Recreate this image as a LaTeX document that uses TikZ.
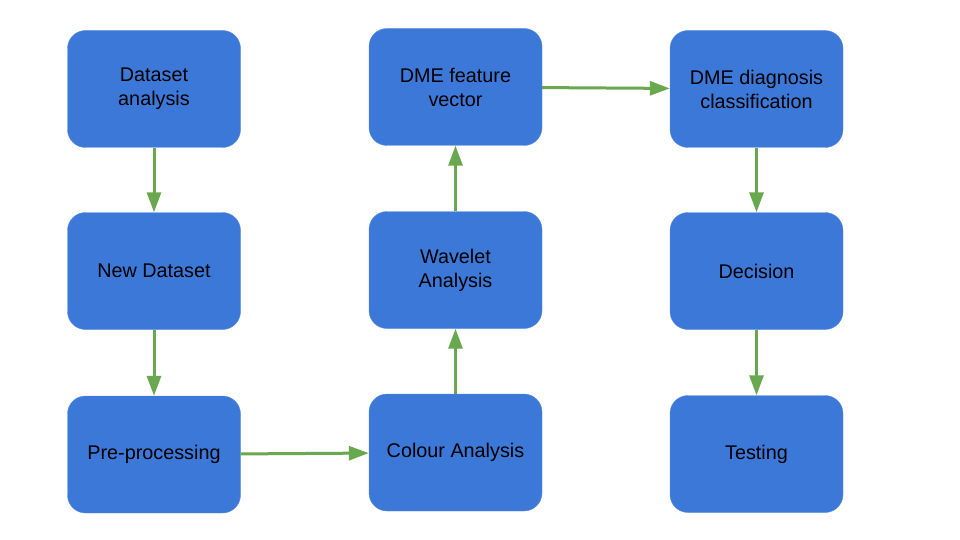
\documentclass[tikz,border=0pt]{standalone}
\usepackage{fontspec}
\setmainfont{Liberation Sans}
\usepackage[usenames]{xcolor}
\usetikzlibrary{arrows.meta}
\definecolor{boxblue}{HTML}{3C78D8}
\definecolor{arrowgreen}{HTML}{6AA84F}

\begin{document}
\begin{tikzpicture}[line cap=round,line join=round,x=1pt,y=-1pt,
  stage/.style={rectangle,rounded corners=18pt,fill=boxblue,draw=boxblue!85!white,
    minimum width=173pt,minimum height=117pt,align=center,
    font=\fontsize{19.8}{24}\selectfont,text=black},
  flow/.style={-{Triangle[length=20pt,width=14pt]},line width=3pt,arrowgreen,line cap=butt}]
\useasboundingbox (0,0) rectangle (960,540);
\node[stage] (dataset) at (154,89) {Dataset\\analysis};
\node[stage] (newdata) at (154,271) {New Dataset};
\node[stage] (preproc) at (154,454.5) {Pre-processing};
\node[stage] (colour) at (455.5,452.5) {Colour Analysis};
\node[stage] (wavelet) at (455.5,270) {Wavelet\\Analysis};
\node[stage] (feature) at (455.5,87) {DME feature\\vector};
\node[stage] (classif) at (756.5,89) {DME diagnosis\\classification};
\node[stage] (decision) at (756.5,271) {Decision};
\node[stage] (testing) at (756.5,454) {Testing};
\draw[flow] (dataset) -- (newdata);
\draw[flow] (newdata) -- (preproc);
\draw[flow] (preproc) -- (colour);
\draw[flow] (colour) -- (wavelet);
\draw[flow] (wavelet) -- (feature);
\draw[flow] (feature) -- (classif);
\draw[flow] (classif) -- (decision);
\draw[flow] (decision) -- (testing);
\end{tikzpicture}
\end{document}
